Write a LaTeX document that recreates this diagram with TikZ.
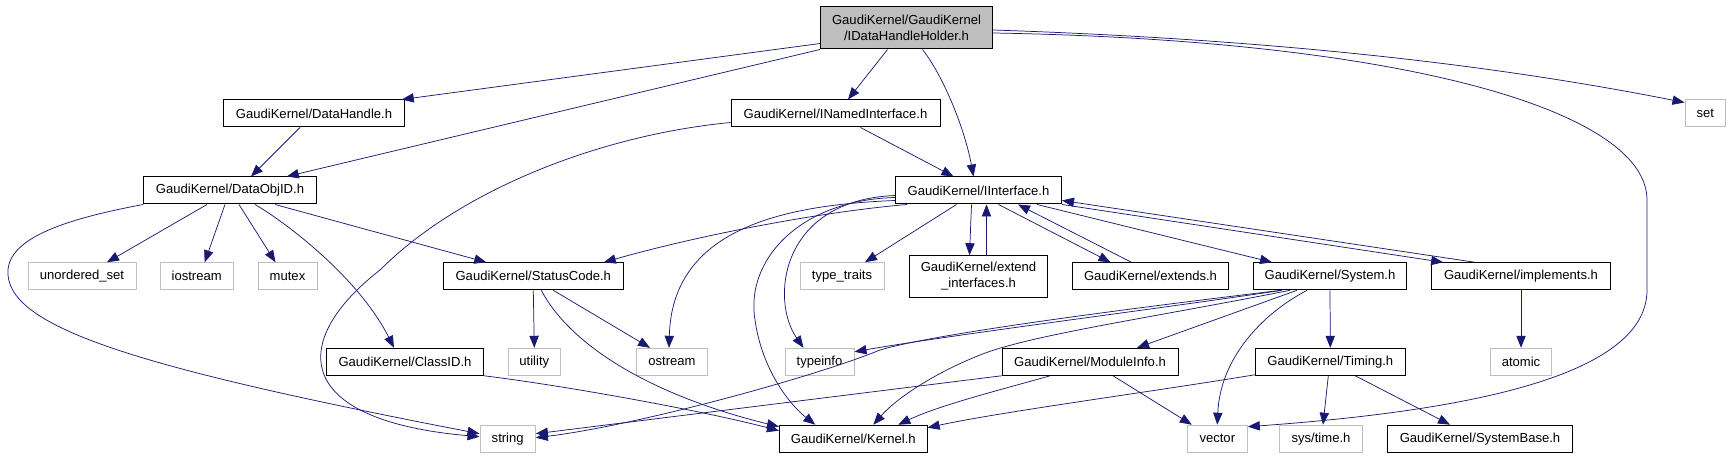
\documentclass[tikz,border=0pt]{standalone}
\usepackage{fontspec}
\setmainfont{Liberation Sans}
\usetikzlibrary{calc, positioning, shapes, arrows, arrows.meta}
\definecolor{edgeblue}{RGB}{25,25,112}
\definecolor{boxgray}{RGB}{191,191,191}
\tikzset{
  hdr/.style={draw=black, line width=0.75pt, minimum height=20.25pt, inner sep=1pt, font=\fontsize{9.8}{12}\selectfont, align=center},
  sys/.style={hdr, draw=boxgray},
  cur/.style={hdr, fill=boxgray},
  wd/.style={minimum width=#1*0.75pt},
  inc/.style={draw=edgeblue, line width=0.55pt, -{Triangle[length=9pt,width=7pt]}}
}
\begin{document}
\begin{tikzpicture}[x=0.75pt,y=-0.75pt]
\useasboundingbox (0,0) rectangle (1730,459);
\node[cur, wd=172, minimum height=31.5pt] (idh) at (906.5,28) {GaudiKernel/GaudiKernel\\/IDataHandleHolder.h};
\node[hdr, wd=180.5] (dhandle) at (314,113.5) {GaudiKernel/DataHandle.h};
\node[hdr, wd=172.5] (dataobjid) at (230,190.5) {GaudiKernel/DataObjID.h};
\node[hdr, wd=209] (inamed) at (835.5,113.5) {GaudiKernel/INamedInterface.h};
\node[hdr, wd=166] (iiface) at (978.5,190.5) {GaudiKernel/IInterface.h};
\node[sys, wd=40.6] (set) at (1705.3,113.5) {set};
\node[sys, wd=108] (unordset) at (82,276.3) {unordered\_set};
\node[sys, wd=73.4] (iostream) at (196.7,276.3) {iostream};
\node[sys, wd=59] (mutex) at (287.5,276.3) {mutex};
\node[hdr, wd=180] (statuscode) at (533.3,276.3) {GaudiKernel/StatusCode.h};
\node[sys, wd=84] (typetraits) at (842,276.3) {type\_traits};
\node[hdr, wd=138, minimum height=31.2pt] (extendif) at (978.5,276.5) {GaudiKernel/extend\\\_interfaces.h};
\node[hdr, wd=156.4] (extends) at (1150.5,276.3) {GaudiKernel/extends.h};
\node[hdr, wd=153.8] (system) at (1330,276.3) {GaudiKernel/System.h};
\node[hdr, wd=178.7] (implements) at (1521,276.3) {GaudiKernel/implements.h};
\node[hdr, wd=157] (classid) at (405,361.8) {GaudiKernel/ClassID.h};
\node[sys, wd=51.4] (utility) at (534.3,361.8) {utility};
\node[sys, wd=71] (ostream) at (672,361.8) {ostream};
\node[sys, wd=69] (typeinfo) at (819.5,361.8) {typeinfo};
\node[hdr, wd=176] (moduleinfo) at (1090,361.8) {GaudiKernel/ModuleInfo.h};
\node[hdr, wd=150] (timing) at (1330.3,361.8) {GaudiKernel/Timing.h};
\node[sys, wd=61] (atomic) at (1521,361.8) {atomic};
\node[sys, wd=55.4] (string) at (507.7,438.7) {string};
\node[hdr, wd=147.7] (kernel) at (853.3,438.7) {GaudiKernel/Kernel.h};
\node[sys, wd=60] (vector) at (1217.3,438.7) {vector};
\node[sys, wd=83] (systime) at (1321,438.7) {sys/time.h};
\node[hdr, wd=185] (systembase) at (1480,438.7) {GaudiKernel/SystemBase.h};
\draw[inc] ($(idh.south west)+(0,-6)$) -- ($(dhandle.north east)+(-3,0)$);
\draw[inc] (idh.south west) -- ($(dataobjid.north east)+(-30,0)$);
\draw[inc] ($(idh.south)+(-19,0)$) -- ($(inamed.north)+(12.5,0)$);
\draw[inc] ($(idh.south)+(16,0)$) .. controls (944,77) and (965,130) .. ($(iiface.north)+(-5,0)$);
\draw[inc] ($(idh.east)+(0,2)$) .. controls (1230,38) and (1460,58) .. ($(set.north west)+(0,3)$);
\draw[inc] ($(idh.east)+(0,5)$) .. controls (1400,40) and (1647,110) .. (1647,200) -- (1647,290) .. controls (1647,380) and (1450,412) .. ($(vector.north east)+(0,2)$);
\draw[inc] ($(dhandle.south)+(-14,0)$) -- ($(dataobjid.north)+(21,0)$);
\draw[inc] ($(inamed.south)+(25,0)$) -- ($(iiface.north)+(-25,0)$);
\draw[inc] ($(inamed.west)+(0,9)$) .. controls (600,135) and (460,190) .. (380,270) .. controls (290,340) and (290,420) .. ($(string.west)+(0,-2)$);
\draw[inc] ($(dataobjid.south)+(-23,0)$) -- ($(unordset.north)+(25,0)$);
\draw[inc] ($(dataobjid.south)+(-5,0)$) -- ($(iostream.north)+(8,0)$);
\draw[inc] ($(dataobjid.south)+(9,0)$) -- ($(mutex.north)+(-12,0)$);
\draw[inc] ($(dataobjid.south)+(25,0)$) .. controls (290,225) and (360,280) .. ($(classid.north)+(-11,0)$);
\draw[inc] ($(dataobjid.south)+(45,0)$) -- ($(statuscode.north)+(-47,0)$);
\draw[inc] (dataobjid.south west) .. controls (60,220) and (5,240) .. (8,275) .. controls (12,330) and (150,370) .. ($(string.west)+(0,-5)$);
\draw[inc] ($(iiface.south west)+(12,0)$) .. controls (820,212) and (700,235) .. ($(statuscode.north east)+(-20,0)$);
\draw[inc] ($(iiface.west)+(0,10)$) .. controls (780,205) and (672,230) .. ($(ostream.north)+(-3,0)$);
\draw[inc] ($(iiface.west)+(0,7)$) .. controls (800,200) and (745,260) .. (755,320) .. controls (762,370) and (790,405) .. ($(kernel.north)+(-38,0)$);
\draw[inc] ($(iiface.west)+(0,5)$) .. controls (780,200) and (770,300) .. ($(typeinfo.north)+(-16,0)$);
\draw[inc] ($(iiface.south)+(-22,0)$) -- ($(typetraits.north)+(23,0)$);
\draw[inc] ($(iiface.south)+(-7,0)$) -- ($(extendif.north)+(-9,0)$);
\draw[inc] ($(iiface.south)+(20,0)$) -- ($(extends.north)+(-40,0)$);
\draw[inc] ($(iiface.south east)+(-25,0)$) -- ($(system.north)+(-58,0)$);
\draw[inc] (iiface.south east) -- ($(implements.north west)+(12,0)$);
\draw[inc] ($(extendif.north)+(8,0)$) -- ($(iiface.south)+(8,0)$);
\draw[inc] ($(extends.north)+(-19,0)$) -- ($(iiface.south east)+(-44,0)$);
\draw[inc] ($(implements.north west)+(44,0)$) -- ($(iiface.east)+(0,10)$);
\draw[inc] (statuscode.south) -- (utility.north);
\draw[inc] ($(statuscode.south)+(20,0)$) -- ($(ostream.north west)+(14,0)$);
\draw[inc] ($(statuscode.south)+(8,0)$) .. controls (570,345) and (650,395) .. ($(kernel.north west)+(0,2)$);
\draw[inc] (classid.south east) .. controls (560,385) and (700,410) .. ($(kernel.north west)+(0,6)$);
\draw[inc] ($(system.south)+(-48,0)$) .. controls (1150,310) and (950,335) .. ($(typeinfo.north east)+(0,4)$);
\draw[inc] ($(system.south)+(-49,0)$) .. controls (1100,312) and (930,335) .. (880,350) .. controls (820,375) and (640,425) .. ($(string.east)+(0,-1)$);
\draw[inc] ($(system.south)+(-40,0)$) .. controls (1150,318) and (1030,335) .. (980,355) .. controls (930,375) and (895,400) .. ($(kernel.north)+(20,0)$);
\draw[inc] ($(system.south)+(-33,0)$) -- ($(moduleinfo.north)+(47,0)$);
\draw[inc] ($(system.south)+(-23,0)$) .. controls (1260,315) and (1220,360) .. (vector.north);
\draw[inc] (system.south) -- (timing.north);
\draw[inc] (moduleinfo.south west) -- ($(string.east)+(0,-5)$);
\draw[inc] ($(moduleinfo.south)+(-40,0)$) .. controls (1000,390) and (940,405) .. ($(kernel.north)+(45,0)$);
\draw[inc] ($(moduleinfo.south)+(23,0)$) -- ($(vector.north west)+(5,0)$);
\draw[inc] ($(timing.south west)+(0,-1)$) .. controls (1150,392) and (1000,412) .. ($(kernel.north east)+(0,3)$);
\draw[inc] ($(timing.south)+(-2,0)$) -- ($(systime.north)+(2,0)$);
\draw[inc] ($(timing.south)+(25,0)$) -- ($(systembase.north)+(-30,0)$);
\draw[inc] (implements.south) -- (atomic.north);
\end{tikzpicture}
\end{document}
